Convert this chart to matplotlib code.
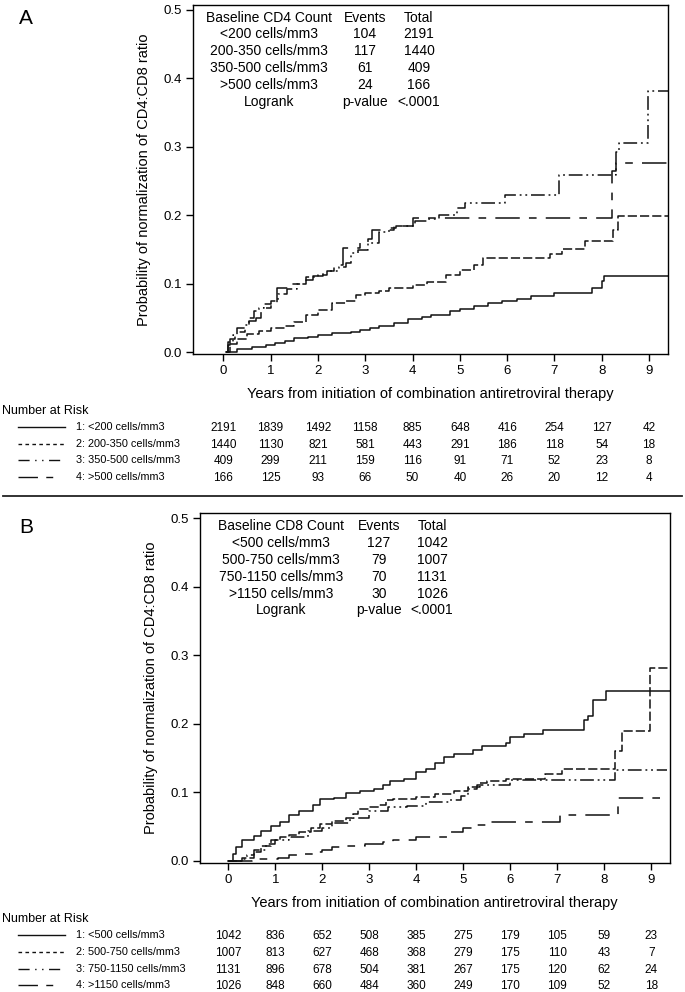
import matplotlib
matplotlib.use("Agg")
import matplotlib.pyplot as plt
from matplotlib.lines import Line2D
from matplotlib import font_manager

# Kaplan-Meier style cumulative probability curves.
years = list(range(10))

# Panel A: baseline CD4 count
a_groups = ["<200 cells/mm3", "200-350 cells/mm3", "350-500 cells/mm3", ">500 cells/mm3"]
a_events = [104, 117, 61, 24]
a_total = [2191, 1440, 409, 166]
a_risk = [
    [2191, 1839, 1492, 1158, 885, 648, 416, 254, 127, 42],
    [1440, 1130, 821, 581, 443, 291, 186, 118, 54, 18],
    [409, 299, 211, 159, 116, 91, 71, 52, 23, 8],
    [166, 125, 93, 66, 50, 40, 26, 20, 12, 4],
]
a1_t = [0.05, 0.3, 0.6, 0.9, 1.1, 1.3, 1.5, 1.8, 2.0, 2.3, 2.7, 2.9, 3.1, 3.3, 3.6, 3.9, 4.2, 4.4,
        4.8, 5.0, 5.3, 5.6, 5.9, 6.2, 6.5, 7.0, 7.8, 8.0, 8.05, 9.4]
a1_p = [0.0, 0.005, 0.007, 0.011, 0.013, 0.017, 0.021, 0.023, 0.025, 0.028, 0.030, 0.032, 0.035,
        0.038, 0.043, 0.048, 0.052, 0.055, 0.060, 0.063, 0.068, 0.072, 0.075, 0.078, 0.082,
        0.087, 0.094, 0.104, 0.111, 0.111]
a2_t = [0.05, 0.15, 0.3, 0.5, 0.75, 1.0, 1.3, 1.5, 1.75, 2.0, 2.3, 2.6, 2.8, 3.0, 3.3, 3.5, 4.0,
        4.3, 4.7, 5.0, 5.3, 5.5, 6.9, 7.15, 7.65, 8.23, 8.34, 9.4]
a2_p = [0.0, 0.012, 0.02, 0.026, 0.031, 0.035, 0.038, 0.044, 0.054, 0.062, 0.072, 0.075, 0.084,
        0.087, 0.090, 0.094, 0.098, 0.103, 0.113, 0.120, 0.128, 0.137, 0.143, 0.151, 0.162,
        0.178, 0.199, 0.199]
a3_t = [0.05, 0.1, 0.2, 0.3, 0.45, 0.55, 0.65, 0.75, 0.85, 1.0, 1.15, 1.35, 1.55, 1.75, 2.0,
        2.2, 2.45, 2.6, 2.7, 2.85, 3.05, 3.3, 3.5, 3.65, 4.05, 4.3, 4.55, 4.95, 5.1, 5.95,
        7.1, 8.3, 8.36, 8.98, 9.4]
a3_p = [0.0, 0.015, 0.025, 0.035, 0.040, 0.050, 0.060, 0.065, 0.070, 0.075, 0.085, 0.093, 0.100,
        0.110, 0.113, 0.118, 0.125, 0.130, 0.145, 0.150, 0.160, 0.175, 0.182, 0.185, 0.192,
        0.195, 0.200, 0.210, 0.218, 0.229, 0.259, 0.292, 0.305, 0.382, 0.382]
a4_t = [0.05, 0.1, 0.15, 0.25, 0.3, 0.45, 0.55, 0.7, 0.8, 0.9, 1.0, 1.13, 1.4, 1.75, 1.9, 2.1,
        2.35, 2.52, 2.9, 3.05, 3.15, 3.6, 4.02, 8.21, 8.3, 9.4]
a4_p = [0.0, 0.01, 0.02, 0.025, 0.03, 0.038, 0.045, 0.050, 0.060, 0.065, 0.072, 0.094, 0.100,
        0.106, 0.112, 0.118, 0.128, 0.152, 0.160, 0.165, 0.178, 0.185, 0.196, 0.265, 0.277,
        0.277]

# Panel B: baseline CD8 count
b_groups = ["<500 cells/mm3", "500-750 cells/mm3", "750-1150 cells/mm3", ">1150 cells/mm3"]
b_events = [127, 79, 70, 30]
b_total = [1042, 1007, 1131, 1026]
b_risk = [
    [1042, 836, 652, 508, 385, 275, 179, 105, 59, 23],
    [1007, 813, 627, 468, 368, 279, 175, 110, 43, 7],
    [1131, 896, 678, 504, 381, 267, 175, 120, 62, 24],
    [1026, 848, 660, 484, 360, 249, 170, 109, 52, 18],
]
b1_t = [0.0, 0.1, 0.16, 0.3, 0.55, 0.7, 0.9, 1.1, 1.3, 1.5, 1.8, 1.95, 2.25, 2.5, 2.8, 3.1,
        3.3, 3.45, 3.75, 4.0, 4.2, 4.4, 4.6, 4.8, 5.2, 5.4, 5.9, 6.0, 6.3, 6.7, 7.58, 7.66,
        7.77, 8.03, 9.4]
b1_p = [0.0, 0.01, 0.02, 0.03, 0.036, 0.044, 0.051, 0.056, 0.066, 0.073, 0.082, 0.090, 0.092,
        0.099, 0.102, 0.105, 0.111, 0.117, 0.120, 0.129, 0.134, 0.143, 0.151, 0.156, 0.161,
        0.167, 0.172, 0.180, 0.185, 0.191, 0.205, 0.212, 0.234, 0.248, 0.248]
b2_t = [0.0, 0.3, 0.55, 0.7, 0.9, 1.1, 1.3, 1.5, 1.75, 1.95, 2.2, 2.5, 2.65, 2.75, 3.0, 3.2,
        3.35, 3.5, 4.0, 4.4, 4.8, 5.1, 5.35, 5.5, 5.9, 6.73, 7.1, 8.22, 8.37, 8.98, 9.4]
b2_p = [0.0, 0.004, 0.012, 0.022, 0.030, 0.035, 0.038, 0.042, 0.048, 0.054, 0.058, 0.062,
        0.068, 0.075, 0.078, 0.082, 0.088, 0.090, 0.093, 0.097, 0.102, 0.108, 0.114, 0.117,
        0.120, 0.1265, 0.134, 0.160, 0.190, 0.281, 0.281]
b3_t = [0.0, 0.3, 0.4, 0.55, 0.8, 1.0, 1.3, 1.7, 2.0, 2.2, 2.6, 3.0, 3.4, 3.8, 4.2, 4.7, 4.95,
        5.1, 5.3, 6.0, 8.22, 9.33]
b3_p = [0.0, 0.003, 0.008, 0.015, 0.025, 0.030, 0.035, 0.043, 0.048, 0.055, 0.063, 0.072,
        0.078, 0.080, 0.085, 0.088, 0.095, 0.105, 0.111, 0.118, 0.133, 0.133]
b4_t = [0.0, 0.5, 1.06, 1.3, 1.5, 1.9, 2.0, 2.2, 2.5, 2.9, 3.3, 3.5, 4.0, 4.75, 5.0, 5.3,
        5.5, 7.05, 8.3, 9.33]
b4_p = [0.0, 0.002, 0.004, 0.008, 0.010, 0.012, 0.015, 0.020, 0.022, 0.025, 0.027, 0.030,
        0.034, 0.042, 0.047, 0.052, 0.056, 0.066, 0.092, 0.092]

W, H = 685, 992


def fx(px):
    return px / W


def fy(py):
    return 1 - py / H


names = {f.name for f in font_manager.fontManager.ttflist}
narrow = "Liberation Sans Narrow" if "Liberation Sans Narrow" in names else "Liberation Sans"
plt.rcParams["font.family"] = ["Liberation Sans", "DejaVu Sans"]

styles = ["-", (0, (6, 2)), (0, (9, 2.5, 1.2, 2.5, 1.2, 2.5)), (0, (16, 6, 5, 6))]
legend_styles = ["-", (0, (2.6, 2.4)), (0, (8, 4, 1, 4, 1, 4)), (0, (14, 6, 5, 20))]

fig = plt.figure(figsize=(W / 100, H / 100), dpi=100)


def panel(dy, box, xlim, curves, title, groups, events, total, risk, letter, tcols):
    ax = fig.add_axes(box)
    for (t, p), ls in zip(curves, styles):
        ax.step(t, p, where="post", color="#111111", lw=1.1, linestyle=ls)
    ax.set_xlim(*xlim)
    ax.set_ylim(-0.003, 0.5077)
    ax.set_xticks(years)
    ax.set_yticks([0.0, 0.1, 0.2, 0.3, 0.4, 0.5])
    ax.set_yticklabels(["0.0", "0.1", "0.2", "0.3", "0.4", "0.5"])
    ax.tick_params(direction="out", length=5, width=1, labelsize=9.5, pad=3)
    for lab in ax.get_xticklabels() + ax.get_yticklabels():
        lab.set_family(narrow)
    for s in ax.spines.values():
        s.set_linewidth(1.0)
    ax.set_xlabel("Years from initiation of combination antiretroviral therapy", fontsize=10.5,
                  labelpad=7)
    ax.set_ylabel("Probability of normalization of CD4:CD8 ratio", fontsize=10.5, labelpad=9)

    # inset table
    rows = [[title, "Events", "Total"]]
    rows += [[g, str(e), str(n)] for g, e, n in zip(groups, events, total)]
    rows.append(["Logrank", "p-value", "<.0001"])
    for i, row in enumerate(rows):
        for cx, txt in zip(tcols, row):
            fig.text(fx(cx), fy(dy + 17.5 + 16.9 * i), txt, ha="center", va="center",
                     fontsize=10, family=narrow)

    fig.text(fx(19), fy(dy + 19), letter, fontsize=15, va="center", ha="left")

    # number at risk table
    fig.text(fx(2), fy(dy + 411), "Number at Risk", fontsize=9, va="center", ha="left")
    trans = matplotlib.transforms.blended_transform_factory(ax.transData, fig.transFigure)
    for k in range(4):
        yy = dy + 427 + 16.6 * k
        fig.add_artist(Line2D([fx(18), fx(65)], [fy(yy), fy(yy)], color="#111111", lw=1.0,
                              linestyle=legend_styles[k]))
        fig.text(fx(76), fy(yy), f"{k + 1}: {groups[k]}", fontsize=7.8, va="center", ha="left")
        for yr, n in zip(years, risk[k]):
            ax.text(yr, fy(yy + 1), str(n), transform=trans, fontsize=8.5, ha="center",
                    va="center", clip_on=False)
    return ax


axA = panel(0, [fx(193.3), fy(354.3), fx(668) - fx(193.3), fy(4.7) - fy(354.3)],
            (-0.634, 9.40),
            [(a1_t, a1_p), (a2_t, a2_p), (a3_t, a3_p), (a4_t, a4_p)],
            "Baseline CD4 Count", a_groups, a_events, a_total, a_risk, "A", [269, 365, 419])

axB = panel(508.4, [fx(200), fy(862.7), fx(669.5) - fx(200), fy(513.1) - fy(862.7)],
            (-0.602, 9.39),
            [(b1_t, b1_p), (b2_t, b2_p), (b3_t, b3_p), (b4_t, b4_p)],
            "Baseline CD8 Count", b_groups, b_events, b_total, b_risk, "B", [281, 379, 432])

fig.add_artist(Line2D([fx(3), fx(682)], [fy(496), fy(496)], color="#222222", lw=1.3))

fig.savefig("out.png", dpi=100)
